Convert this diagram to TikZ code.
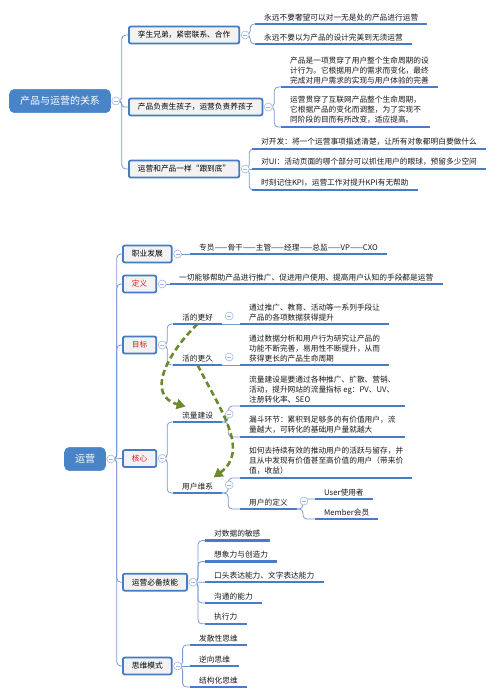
\documentclass[tikz,border=0pt]{standalone}
\usepackage{fontspec}
\setmainfont{Noto Sans CJK SC}
\usetikzlibrary{arrows.meta,backgrounds}

\definecolor{rootblue}{RGB}{74,132,200}
\definecolor{boxline}{RGB}{70,122,194}
\definecolor{boxfill}{RGB}{242,242,243}
\definecolor{ulblue}{RGB}{72,124,198}
\definecolor{connblue}{RGB}{118,154,208}
\definecolor{foldblue}{RGB}{160,184,224}
\definecolor{keyred}{RGB}{232,28,36}
\definecolor{flowgreen}{RGB}{108,138,44}

\newcommand{\leaffont}{\fontsize{7.7}{10}\selectfont}
\newcommand{\rootfont}{\fontsize{10}{12}\selectfont}

\tikzset{
  rootbox/.style={draw=rootblue, fill=rootblue, text=white, rounded corners=5pt,
    line width=0.6pt, inner xsep=10.5pt, inner ysep=7pt, font=\rootfont},
  topic/.style={draw=boxline, fill=boxfill, rounded corners=2pt, line width=1.8pt,
    inner xsep=9pt, inner ysep=4pt, minimum height=17pt, anchor=west, font=\leaffont},
  leaf/.style={anchor=south west, inner xsep=9pt, inner ysep=3pt, align=left,
    font=\leaffont, text=black!90,
    append after command={\pgfextra{\let\ulnode\tikzlastnode}
      (\ulnode.south west) edge[uline] (\ulnode.south east)}},
  uline/.style={draw=ulblue, line width=2.3pt},
  fold/.style={circle, draw=foldblue, fill=white, line width=0.6pt, minimum size=8pt,
    inner sep=0pt,
    path picture={\draw[foldblue, line width=0.6pt]
      ([xshift=-2pt]path picture bounding box.center) -- ([xshift=2pt]path picture bounding box.center);}},
  conn/.style={draw=connblue, line width=0.8pt, rounded corners=4pt},
  flow/.style={draw=flowgreen, line width=2.6pt, dash pattern=on 6pt off 3.5pt,
    -{Triangle[length=9pt,width=10pt]}},
}

\begin{document}
\begin{tikzpicture}[x=1pt,y=-1pt]
\useasboundingbox (0,0) rectangle (500,697);

% 产品与运营的关系
\node[rootbox] (rel) at (60,101) {产品与运营的关系};
\node[fold] (rel-f) at ([xshift=5pt]rel.east) {};
\node[topic] (twin) at (128,35) {孪生兄弟，紧密联系、合作};
\node[topic] (raise) at (128,107) {产品负责生孩子，运营负责养孩子};
\node[topic] (follow) at (128,169) {运营和产品一样“跟到底”};
\foreach \n in {twin,raise,follow} \node[fold] (\n-f) at ([xshift=5pt]\n.east) {};

\node[leaf] (twinA) at (255,24) {永远不要奢望可以对一无是处的产品进行运营};
\node[leaf] (twinB) at (255,44) {永远不要以为产品的设计完美到无须运营};
\node[leaf] (raiseA) at (281,87) {产品是一项贯穿了用户整个生命周期的设\\计行为。它根据用户的需求而变化，最终\\完成对用户需求的实现与用户体验的完善};
\node[leaf] (raiseB) at (281,127) {运营贯穿了互联网产品整个生命周期，\\它根据产品的变化而调整，为了实现不\\同阶段的目而有所改变，适应提高。};
\node[leaf] (followA) at (252,149) {对开发：将一个运营事项描述清楚，让所有对象都明白要做什么};
\node[leaf] (followB) at (252,169) {对UI：活动页面的哪个部分可以抓住用户的眼球，预留多少空间};
\node[leaf] (followC) at (252,190) {时刻记住KPI，运营工作对提升KPI有无帮助};

% 运营
\node[rootbox] (ops) at (85,459) {运营};
\node[fold] (ops-f) at ([xshift=5pt]ops.east) {};
\node[topic] (career) at (122,254) {职业发展};
\node[topic, text=keyred] (define) at (122,284) {定义};
\node[topic, text=keyred] (goal) at (122,345) {目标};
\node[topic, text=keyred] (core) at (122,458.5) {核心};
\node[topic] (skill) at (122,582.2) {运营必备技能};
\node[topic] (mind) at (122,666) {思维模式};
\foreach \n in {career,define,goal,core,skill,mind} \node[fold] (\n-f) at ([xshift=5pt]\n.east) {};

\node[leaf] (careerA) at (190,254) {专员——骨干——主管——经理——总监——VP——CXO};
\node[leaf] (defineA) at (170,284) {一切能够帮助产品进行推广、促进用户使用、提高用户认知的手段都是运营};

\node[leaf] (better) at (173,324) {活的更好};
\node[leaf] (longer) at (173,365) {活的更久};
\node[leaf] (betterA) at (240,324) {通过推广、教育、活动等一系列手段让\\产品的各项数据获得提升};
\node[leaf] (longerA) at (240,365) {通过数据分析和用户行为研究让产品的\\功能不断完善，易用性不断提升，从而\\获得更长的产品生命周期};

\node[leaf] (traffic) at (173,422) {流量建设};
\node[leaf] (retain) at (173,493) {用户维系};
\node[leaf] (trafficA) at (240,406) {流量建设是要通过各种推广、扩散、营销、\\活动，提升网站的流量指标 eg：PV、UV、\\注册转化率、SEO};
\node[leaf] (trafficB) at (240,437) {漏斗环节：累积到足够多的有价值用户，流\\量越大，可转化的基础用户量就越大};
\node[leaf] (retainA) at (240,478) {如何去持续有效的推动用户的活跃与留存，并\\且从中发现有价值甚至高价值的用户（带来价\\值，收益）};
\node[leaf] (userdef) at (240,509) {用户的定义};
\node[leaf] (userA) at (315,499) {User使用者};
\node[leaf] (userB) at (315,519) {Member会员};
\foreach \n in {better,longer,traffic,retain,userdef}
  \node[fold] (\n-f) at ([xshift=7pt,yshift=8pt]\n.south east) {};

\foreach \t [count=\i] in {对数据的敏感,想象力与创造力,口头表达能力、文字表达能力,沟通的能力,执行力}
  \node[leaf] (skill\i) at (205,519.8+20.8*\i) {\t};
\foreach \t [count=\i] in {发散性思维,逆向思维,结构化思维}
  \node[leaf] (mind\i) at (190,624+21*\i) {\t};

% connectors
\begin{pgfonlayer}{background}
\foreach \n in {twin,follow} \draw[conn] (rel-f.center) -- ++(6,0) |- (\n.west);
\draw[conn, rounded corners=2.5pt] (rel-f.center) -- ++(6,0) |- (raise.west);
\foreach \n in {twinA,twinB} \draw[conn] (twin-f.center) -- ++(5,0) |- (\n.south west);
\foreach \n in {raiseA,raiseB} \draw[conn] (raise-f.center) -- ++(6,0) |- (\n.south west);
\foreach \n in {followA,followC} \draw[conn] (follow-f.center) -- ++(4,0) |- (\n.south west);
\draw[conn] (follow-f.center) -- (followB.south west);

\foreach \n in {career,define,goal,skill,mind} \draw[conn] (ops-f.center) -- ++(6,0) |- (\n.west);
\draw[conn] (ops-f.center) -- (core.west);
\draw[conn] (career-f.center) -- (careerA.south west);
\draw[conn] (define-f.center) -- (defineA.south west);
\foreach \n in {better,longer} \draw[conn] (goal-f.center) -- ++(5,0) |- (\n.south west);
\draw[conn] (better.south east) -- (betterA.south west);
\draw[conn] (longer.south east) -- (longerA.south west);
\foreach \n in {traffic,retain} \draw[conn] (core-f.center) -- ++(5,0) |- (\n.south west);
\foreach \n in {trafficA,trafficB} \draw[conn] (traffic.south east) -- ++(6,0) |- (\n.south west);
\foreach \n in {retainA,userdef} \draw[conn] (retain.south east) -- ++(6,0) |- (\n.south west);
\foreach \n in {userA,userB} \draw[conn] (userdef.south east) -- ++(6,0) |- (\n.south west);
\foreach \i in {1,2,4,5} \draw[conn] (skill-f.center) -- ++(5,0) |- (skill\i.south west);
\draw[conn] (skill-f.center) -- (skill3.south west);
\foreach \i in {1,3} \draw[conn] (mind-f.center) -- ++(5,0) |- (mind\i.south west);
\draw[conn] (mind-f.center) -- (mind2.south west);
\end{pgfonlayer}

% dashed arrows
\draw[flow] (better.south) .. controls +(-31,30) and +(-40,-11) .. ([xshift=-12pt,yshift=2pt]traffic.north);
\draw[flow] (longer.south) .. controls +(22,44) and +(37,-27) .. ([xshift=16pt,yshift=2pt]retain.north);
\end{tikzpicture}
\end{document}
